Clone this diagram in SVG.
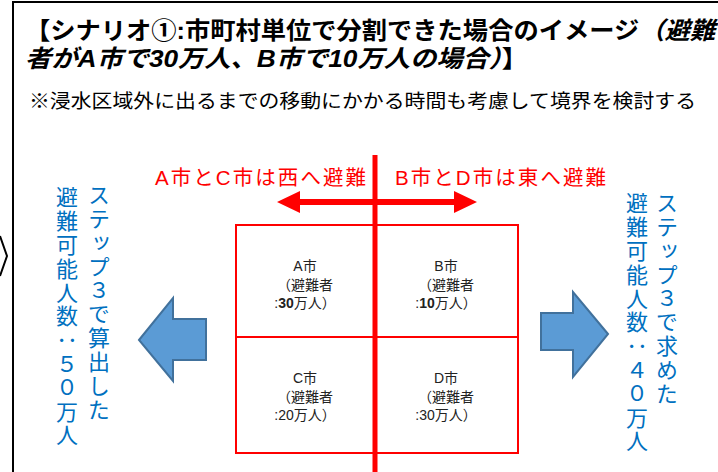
<svg xmlns="http://www.w3.org/2000/svg" width="718" height="472" viewBox="0 0 718 472">
<style>
.jp{font-family:"Liberation Sans","Noto Sans CJK JP",sans-serif}
.title{font-size:24px;font-weight:bold;fill:#000}
.sub{font-size:19px;fill:#000}
.red{font-size:20.5px;fill:#FF0000}
.cell{font-size:14px;fill:#222;text-anchor:middle}
.vt{font-family:"Noto Sans CJK JP",sans-serif;font-size:22px;fill:#0070C0;writing-mode:vertical-rl;letter-spacing:1.8px}
.grid{fill:none;stroke:#FF0000;stroke-width:2}
.barrow{fill:#5B9BD5;stroke:#41719C;stroke-width:2;stroke-linejoin:miter}
</style>
<rect width="718" height="472" fill="#fff"/>
<g id="frame">
<path d="M13,472 V2 H718" fill="none" stroke="#000" stroke-width="2"/>
<polyline points="0,236 7,256 0,276" fill="none" stroke="#000" stroke-width="2"/>
</g>
<g id="title" class="jp">
<text class="title" x="25" y="39" textLength="690" lengthAdjust="spacingAndGlyphs">【シナリオ①:市町村単位で分割できた場合のイメージ<tspan font-style="italic">（避難</tspan></text>
<text class="title" x="25" y="67" textLength="503" lengthAdjust="spacingAndGlyphs"><tspan font-style="italic">者がA市で30万人、B市で10万人の場合）</tspan>】</text>
<text class="sub" x="29" y="108" textLength="667" lengthAdjust="spacingAndGlyphs">※浸水区域外に出るまでの移動にかかる時間も考慮して境界を検討する</text>
</g>
<g id="labels" class="jp">
<text class="red" x="155" y="185" textLength="211">A市とC市は西へ避難</text>
<text class="red" x="395" y="185" textLength="211">B市とD市は東へ避難</text>
</g>
<g id="connectors">
<line x1="375" y1="155" x2="375" y2="472" stroke="#FF0000" stroke-width="5"/>
<polygon points="277,202 300,191 300,199 454,199 454,191 477,202 454,213 454,205 300,205 300,213" fill="#FF0000"/>
</g>
<g id="grid">
<rect class="grid" x="236" y="225" width="282" height="228"/>
<line class="grid" x1="236" y1="337" x2="518" y2="337"/>
</g>
<g id="cellA" class="jp">
<text class="cell" x="305" y="271">A市</text>
<text class="cell" x="305" y="290">（避難者</text>
<text class="cell" x="305" y="308">:<tspan font-weight="bold">30</tspan>万人）</text>
</g>
<g id="cellB" class="jp">
<text class="cell" x="446" y="271">B市</text>
<text class="cell" x="446" y="290">（避難者</text>
<text class="cell" x="446" y="308">:<tspan font-weight="bold">10</tspan>万人）</text>
</g>
<g id="cellC" class="jp">
<text class="cell" x="305" y="383">C市</text>
<text class="cell" x="305" y="402">（避難者</text>
<text class="cell" x="305" y="420">:20万人）</text>
</g>
<g id="cellD" class="jp">
<text class="cell" x="446" y="383">D市</text>
<text class="cell" x="446" y="402">（避難者</text>
<text class="cell" x="446" y="420">:30万人）</text>
</g>
<g id="leftArrow">
<polygon class="barrow" points="139,340 173,298 173,319 206,319 206,360 173,360 173,381"/>
</g>
<g id="rightArrow">
<polygon class="barrow" points="608,334 573,292 573,313 541,313 541,350 573,350 573,377"/>
</g>
<g id="leftText">
<text class="vt" x="99" y="184">ステップ３で算出した</text>
<text class="vt" x="67" y="186">避難可能人数：５０万人</text>
</g>
<g id="rightText">
<text class="vt" x="667" y="192">ステップ３で求めた</text>
<text class="vt" x="637" y="192">避難可能人数：４０万人</text>
</g>
</svg>
